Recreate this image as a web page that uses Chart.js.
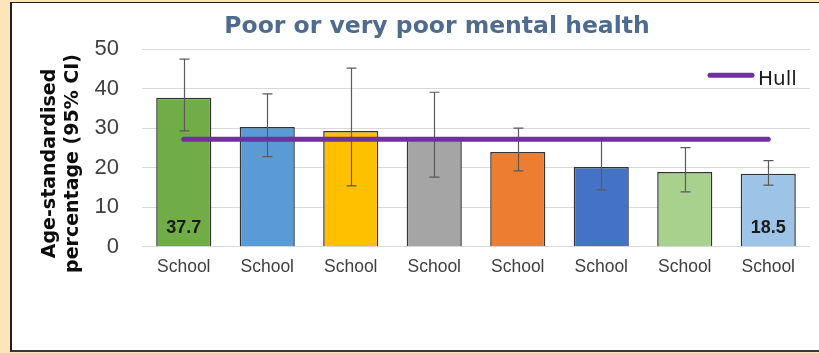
<!DOCTYPE html>
<html><head><meta charset="utf-8">
<script src="https://cdn.jsdelivr.net/npm/chart.js@4.4.1/dist/chart.umd.min.js"></script>
<style>
html,body{margin:0;padding:0;}
body{width:819px;height:353px;background:#FCE5B9;position:relative;overflow:hidden;}
#frame{position:absolute;left:10px;top:2px;width:807px;height:347px;border-left:2px solid #1f1f1f;border-top:1px solid #1f1f1f;border-bottom:2px solid #3a3a3a;background:#fff;}
#wrap{position:relative;width:807px;height:347px;}
</style></head><body>
<div id="frame"><div id="wrap"><canvas id="c"></canvas></div></div>
<script>
const categories = ['School','School','School','School','School','School','School','School'];
const values = [37.7, 30.3, 29.3, 27.1, 24.0, 20.2, 18.9, 18.5];
const ciLower = [29.3, 22.8, 15.4, 17.6, 19.2, 14.4, 13.9, 15.6];
const ciUpper = [47.5, 38.7, 45.2, 39.1, 30.0, 27.5, 25.1, 21.8];
const hullValues = [27.2, 27.2, 27.2, 27.2, 27.2, 27.2, 27.2, 27.2];
const barLabels = ['37.7', '', '', '', '', '', '', '18.5'];
const yTicks = [0, 10, 20, 30, 40, 50];
const yTitleLines = ['Age-standardised', 'percentage (95% CI)'];
const chartTitle = 'Poor or very poor mental health';
const seriesName = 'Hull';

const barColors = ['#70AD47','#5B9BD5','#FFC000','#A5A5A5','#ED7D31','#4472C4','#A9D18E','#9DC3E6'];

const errorBars = {
  id: 'errorBars',
  afterDatasetDraw(chart, args) {
    if (args.index !== 0) return;
    const ctx = chart.ctx, y = chart.scales.y, meta = args.meta;
    ctx.save();
    ctx.strokeStyle = '#5a5a5a';
    ctx.lineWidth = 1.2;
    meta.data.forEach((bar, i) => {
      const x = Math.round(bar.x) + 0.5;
      const yl = y.getPixelForValue(ciLower[i]);
      const yh = y.getPixelForValue(ciUpper[i]);
      ctx.beginPath();
      ctx.moveTo(x, yl); ctx.lineTo(x, yh);
      ctx.moveTo(x - 5, yl); ctx.lineTo(x + 5, yl);
      ctx.moveTo(x - 5, yh); ctx.lineTo(x + 5, yh);
      ctx.stroke();
    });
    ctx.font = 'bold 18px "Liberation Sans", Arial, sans-serif';
    ctx.fillStyle = '#1a1a1a';
    ctx.textAlign = 'center';
    ctx.textBaseline = 'alphabetic';
    meta.data.forEach((bar, i) => {
      if (barLabels[i]) ctx.fillText(barLabels[i], bar.x, bar.base - 13);
    });
    ctx.restore();
  }
};

const extraText = {
  id: 'extraText',
  afterDraw(chart) {
    const ctx = chart.ctx, ca = chart.chartArea;
    ctx.save();
    // y axis title
    ctx.font = 'bold 19px "DejaVu Sans", sans-serif';
    ctx.fillStyle = '#0d0d0d';
    ctx.textAlign = 'center';
    ctx.textBaseline = 'alphabetic';
    const cy = (ca.top + ca.bottom) / 2 + 15.5;
    [43, 66].forEach((bx, i) => {
      ctx.save();
      ctx.translate(bx, cy);
      ctx.rotate(-Math.PI / 2);
      ctx.fillText(yTitleLines[i], 0, 0);
      ctx.restore();
    });
    // legend
    const ds = chart.data.datasets[1];
    ctx.strokeStyle = ds.borderColor;
    ctx.lineWidth = 5;
    ctx.lineCap = 'round';
    ctx.beginPath();
    ctx.moveTo(ca.right - 100, ca.top + 26);
    ctx.lineTo(ca.right - 58, ca.top + 26);
    ctx.stroke();
    ctx.font = '20px "DejaVu Sans", sans-serif';
    ctx.fillStyle = '#1a1a1a';
    ctx.textAlign = 'left';
    ctx.fillText(ds.label, ca.right - 52, ca.top + 36);
    ctx.restore();
  }
};

new Chart(document.getElementById('c'), {
  data: {
    labels: categories,
    datasets: [
      {
        type: 'bar',
        label: 'Schools',
        data: values,
        backgroundColor: barColors,
        borderColor: '#333333',
        borderWidth: 1.5,
        categoryPercentage: 1,
        barPercentage: 0.66,
        order: 1
      },
      {
        type: 'line',
        label: seriesName,
        data: hullValues,
        borderColor: '#7030A0',
        backgroundColor: '#7030A0',
        borderWidth: 5,
        pointRadius: 0,
        borderCapStyle: 'round',
        fill: false,
        order: 0
      }
    ]
  },
  options: {
    responsive: true,
    maintainAspectRatio: false,
    animation: false,
    events: [],
    layout: { padding: { left: 52, right: 9, top: 0, bottom: 73.3 } },
    plugins: {
      legend: { display: false },
      tooltip: { enabled: false },
      title: {
        display: true,
        text: chartTitle,
        color: '#4F6B8E',
        font: { family: '"DejaVu Sans", sans-serif', size: 23.5, weight: 'bold', lineHeight: 1.2 },
        padding: { top: 9.5, bottom: 8.5 }
      }
    },
    scales: {
      x: {
        grid: { display: false },
        border: { display: false },
        afterFit: (s) => { s.height = 30; },
        ticks: {
          color: '#404040',
          font: { family: '"Liberation Sans", Arial, sans-serif', size: 17.5 },
          padding: 1.5,
          maxRotation: 0,
          autoSkip: false
        }
      },
      y: {
        min: 0,
        max: 50,
        afterBuildTicks: (s) => { s.ticks = yTicks.map(v => ({ value: v })); },
        afterFit: (s) => { s.width = 78; },
        grid: { color: '#D9D9D9', lineWidth: 1, drawTicks: false },
        border: { display: false },
        ticks: {
          color: '#404040',
          font: { family: '"Liberation Sans", Arial, sans-serif', size: 22 },
          padding: 23
        }
      }
    }
  },
  plugins: [errorBars, extraText]
});
</script>
</body></html>
